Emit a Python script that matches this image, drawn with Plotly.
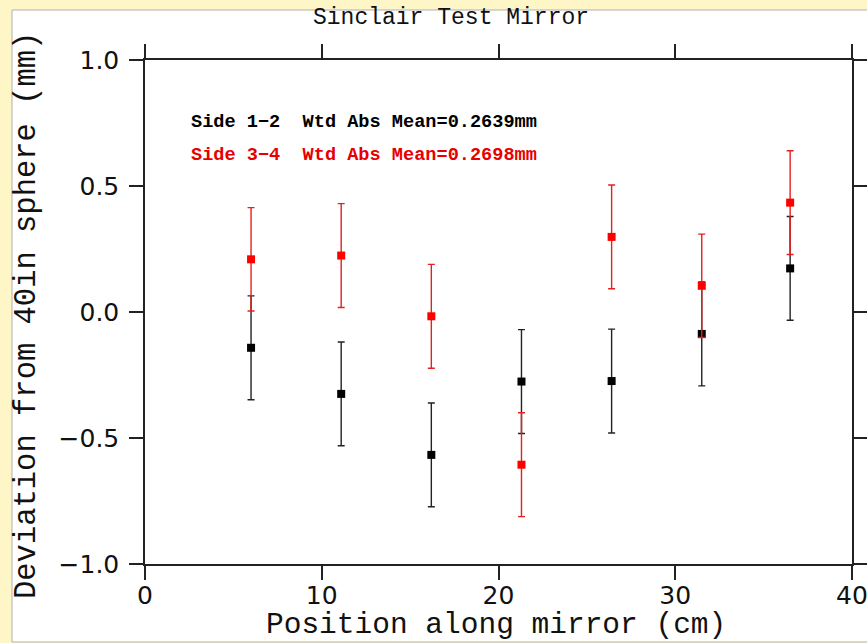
import plotly.graph_objects as go

# ---- data ----
positions = [6.0, 11.1, 16.2, 21.3, 26.4, 31.5, 36.5]
side12 = [-0.142, -0.325, -0.567, -0.276, -0.274, -0.087, 0.173]
side12_err = [0.206, 0.206, 0.206, 0.206, 0.206, 0.206, 0.206]
side34 = [0.209, 0.224, -0.017, -0.606, 0.298, 0.104, 0.434]
side34_err = [0.205, 0.206, 0.206, 0.206, 0.206, 0.205, 0.206]

x_ticks = [0, 10, 20, 30, 40]
y_ticks = [-1.0, -0.5, 0.0, 0.5, 1.0]
y_tick_text = ["\u22121.0", "\u22120.5", "0.0", "0.5", "1.0"]

title_text = "Sinclair Test Mirror"
x_title = "Position along mirror (cm)"
y_title = "Deviation from 40in sphere (mm)"
label12 = "Side 1\u22122  Wtd Abs Mean=0.2639mm"
label34 = "Side 3\u22124  Wtd Abs Mean=0.2698mm"

# ---- layout geometry (pixels) ----
W, H = 867, 643
L, R, T, B = 145, 15, 60, 79
PW = W - L - R
PH = H - T - B


def px(xp):
    return (xp - L) / PW


def py(yp):
    return (H - B - yp) / PH


fig = go.Figure()

fig.add_trace(go.Scatter(
    x=positions, y=side12, mode="markers", name="Side 1-2",
    marker=dict(symbol="square", size=8, color="black"),
    error_y=dict(type="data", array=side12_err, visible=True,
                 color="#222222", thickness=1.4, width=3.5),
))
fig.add_trace(go.Scatter(
    x=positions, y=side34, mode="markers", name="Side 3-4",
    marker=dict(symbol="square", size=8, color="#ff0000"),
    error_y=dict(type="data", array=side34_err, visible=True,
                 color="#e52020", thickness=1.4, width=3.5),
))

axis_common = dict(
    showline=True, linecolor="#222222", linewidth=1.5,
    mirror="ticks", ticks="outside", ticklen=14, tickwidth=1.5,
    tickcolor="#222222", showgrid=False, zeroline=False, automargin=False,
    ticklabeloverflow="allow",
    tickfont=dict(family="DejaVu Sans", size=25, color="#111111"),
)

fig.update_layout(
    width=W, height=H,
    margin=dict(l=L, r=R, t=T, b=B),
    paper_bgcolor="#fef6c6",
    plot_bgcolor="rgba(0,0,0,0)",
    showlegend=False,
    xaxis=dict(range=[0, 40], tickvals=x_ticks, ticklabelstandoff=-6,
               **axis_common),
    yaxis=dict(range=[-1.0, 1.0], tickvals=y_ticks, ticktext=y_tick_text,
               ticklabelstandoff=5, **axis_common),
    shapes=[dict(
        type="rect", xref="paper", yref="paper", layer="below",
        x0=px(12), x1=px(880), y0=py(642), y1=py(10),
        fillcolor="white", line=dict(color="#b0b0b0", width=1),
    )],
    annotations=[
        dict(text=title_text, xref="paper", yref="paper",
             x=px(451), y=py(18), xanchor="center", yanchor="middle",
             showarrow=False,
             font=dict(family="Liberation Mono", size=23, color="#111111")),
        dict(text=x_title, xref="paper", yref="paper",
             x=px(496), y=py(625), xanchor="center", yanchor="middle",
             showarrow=False,
             font=dict(family="Liberation Mono", size=29.5, color="#111111")),
        dict(text=y_title, xref="paper", yref="paper",
             x=px(27), y=py(316), xanchor="center", yanchor="middle",
             textangle=-90, showarrow=False,
             font=dict(family="Liberation Mono", size=30.5, color="#111111")),
        dict(text="<b>" + label12 + "</b>", xref="paper", yref="paper",
             x=px(189), y=py(122), xanchor="left", yanchor="middle",
             showarrow=False,
             font=dict(family="Liberation Mono", size=18.6, color="black")),
        dict(text="<b>" + label34 + "</b>", xref="paper", yref="paper",
             x=px(189), y=py(155), xanchor="left", yanchor="middle",
             showarrow=False,
             font=dict(family="Liberation Mono", size=18.6, color="#e80000")),
    ],
)

fig.write_html("out.html")
